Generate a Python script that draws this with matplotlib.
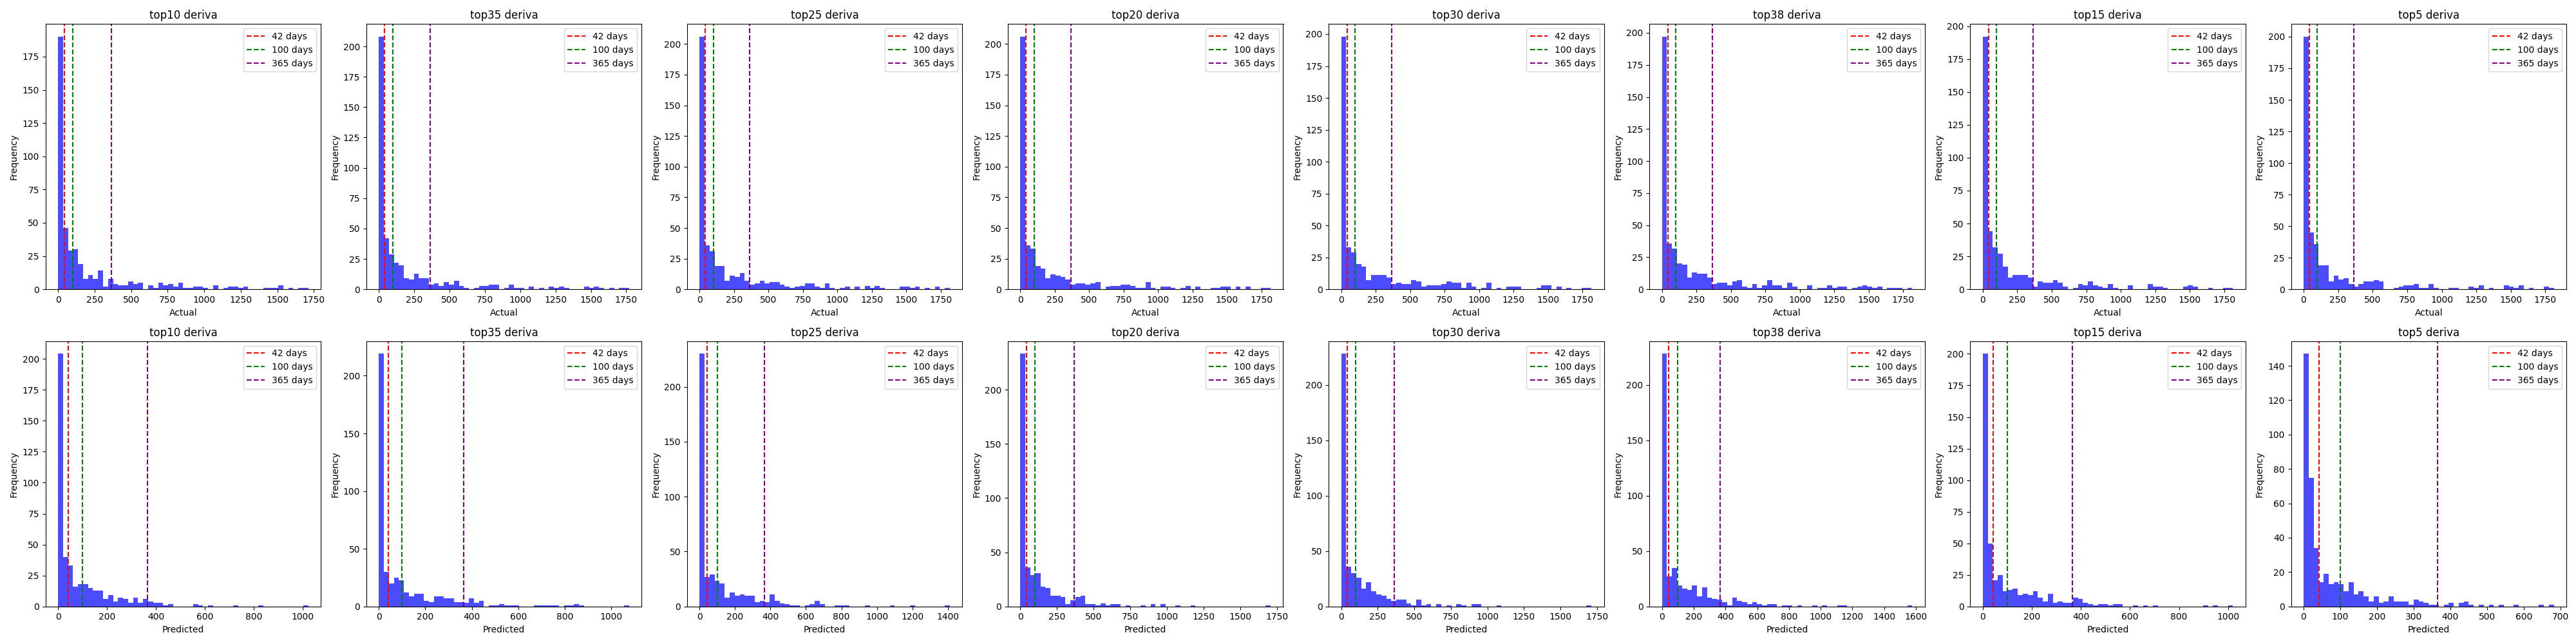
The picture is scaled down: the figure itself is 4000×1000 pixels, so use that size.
import numpy as np
import matplotlib
matplotlib.use("Agg")
import matplotlib.pyplot as plt

models = ["top10", "top35", "top25", "top20", "top30", "top38", "top15", "top5"]

# upper edge of histogram range (days) per model
actual_max = [1712, 1770, 1816, 1816, 1815, 1816, 1813, 1811]
pred_max = [1023, 1076, 1412, 1708, 1711, 1577, 1020, 682]

# 50-bin histogram counts
actual_top10 = [190, 46, 29, 30, 19, 8, 11, 8, 14, 2, 8, 4, 3, 3, 6, 4, 5, 0, 3, 1,
                5, 3, 4, 2, 5, 1, 1, 2, 2, 1, 0, 3, 0, 1, 2, 2, 1, 2, 0, 0,
                0, 1, 1, 1, 3, 0, 1, 0, 1, 1]
pred_top10 = [204, 40, 33, 16, 18, 18, 15, 13, 13, 6, 9, 4, 7, 6, 3, 7, 3, 6, 4, 3,
              3, 1, 2, 0, 0, 0, 0, 2, 1, 0, 1, 0, 0, 0, 0, 1, 0, 0, 0, 0,
              1, 0, 0, 0, 0, 0, 0, 0, 0, 1]
actual_top35 = [208, 42, 29, 22, 20, 9, 8, 13, 9, 9, 4, 5, 3, 6, 4, 7, 3, 1, 0, 1,
                3, 3, 4, 4, 0, 1, 4, 1, 1, 0, 2, 0, 1, 0, 2, 1, 2, 1, 0, 0,
                0, 2, 1, 2, 1, 0, 1, 0, 1, 1]
pred_top35 = [219, 30, 20, 25, 23, 12, 9, 11, 11, 5, 4, 9, 9, 7, 7, 4, 4, 3, 7, 3,
              5, 0, 1, 1, 2, 1, 1, 1, 0, 0, 0, 1, 1, 1, 1, 1, 0, 1, 1, 2,
              1, 0, 0, 0, 0, 0, 0, 0, 0, 1]
actual_top25 = [206, 36, 31, 19, 19, 7, 11, 10, 13, 7, 4, 5, 7, 5, 6, 6, 4, 2, 1, 2,
                3, 5, 5, 2, 1, 5, 1, 0, 1, 2, 0, 2, 0, 3, 1, 3, 1, 0, 0, 0,
                2, 2, 1, 2, 0, 1, 0, 2, 0, 1]
pred_top25 = [230, 27, 29, 23, 21, 8, 13, 10, 11, 10, 10, 4, 5, 4, 11, 5, 3, 2, 1, 1,
              0, 1, 2, 5, 2, 0, 0, 1, 1, 1, 0, 0, 0, 1, 0, 0, 0, 0, 1, 0,
              0, 0, 1, 0, 0, 0, 0, 0, 0, 1]
actual_top20 = [206, 36, 33, 19, 17, 9, 12, 11, 10, 8, 4, 5, 5, 4, 5, 6, 0, 2, 3, 3,
                4, 4, 3, 1, 1, 6, 1, 0, 2, 2, 1, 0, 1, 3, 0, 2, 0, 0, 1, 1,
                2, 2, 0, 2, 0, 2, 0, 0, 1, 1]
pred_top20 = [233, 36, 29, 31, 18, 17, 10, 10, 9, 2, 6, 9, 10, 2, 2, 1, 3, 1, 2, 2,
              0, 1, 0, 0, 1, 0, 2, 0, 2, 0, 0, 1, 0, 0, 1, 0, 0, 0, 0, 0,
              0, 0, 0, 0, 0, 0, 0, 0, 0, 1]
actual_top30 = [198, 33, 29, 20, 18, 7, 11, 11, 11, 9, 4, 5, 4, 4, 7, 6, 2, 3, 3, 3,
                4, 6, 5, 5, 1, 5, 2, 0, 1, 5, 0, 1, 0, 2, 2, 2, 0, 0, 0, 1,
                3, 3, 0, 2, 0, 1, 0, 0, 1, 1]
pred_top30 = [228, 36, 30, 26, 16, 22, 14, 11, 10, 7, 5, 6, 6, 3, 1, 6, 1, 2, 0, 2,
              0, 1, 0, 2, 1, 0, 2, 2, 0, 0, 0, 1, 0, 0, 0, 0, 0, 0, 0, 0,
              0, 0, 0, 0, 0, 0, 0, 0, 0, 1]
actual_top38 = [197, 36, 32, 20, 19, 9, 13, 12, 12, 9, 4, 5, 5, 3, 6, 7, 2, 1, 4, 1,
                3, 7, 3, 3, 1, 5, 2, 0, 0, 3, 0, 1, 1, 3, 1, 2, 2, 0, 1, 2,
                3, 2, 1, 2, 0, 1, 1, 1, 0, 1]
pred_top38 = [228, 27, 35, 19, 16, 15, 19, 9, 17, 8, 7, 6, 4, 1, 8, 5, 4, 2, 4, 2,
              1, 2, 2, 0, 1, 1, 0, 1, 0, 0, 1, 0, 1, 0, 0, 1, 1, 0, 0, 0,
              0, 0, 0, 0, 0, 0, 0, 0, 0, 1]
actual_top15 = [192, 44, 32, 27, 17, 9, 11, 11, 11, 9, 2, 6, 5, 5, 7, 5, 2, 0, 1, 4,
                3, 6, 3, 2, 1, 4, 1, 0, 0, 3, 0, 0, 0, 4, 2, 2, 1, 0, 0, 0,
                2, 3, 2, 0, 0, 1, 0, 0, 1, 1]
pred_top15 = [200, 50, 21, 25, 12, 13, 14, 9, 10, 9, 12, 7, 4, 10, 3, 4, 3, 3, 7, 6,
              3, 2, 1, 2, 2, 1, 2, 2, 0, 0, 1, 0, 1, 0, 1, 0, 0, 0, 0, 0,
              0, 0, 0, 0, 1, 0, 1, 0, 0, 1]
actual_top5 = [200, 45, 36, 19, 19, 6, 11, 8, 9, 4, 2, 4, 6, 6, 7, 6, 0, 0, 1, 2,
               3, 3, 4, 1, 1, 4, 1, 0, 0, 1, 1, 0, 0, 2, 1, 3, 0, 1, 0, 0,
               3, 2, 1, 3, 0, 1, 0, 0, 2, 1]
pred_top5 = [147, 75, 34, 14, 19, 13, 14, 13, 9, 14, 7, 9, 6, 3, 6, 2, 3, 6, 3, 3,
             3, 1, 4, 3, 2, 1, 1, 0, 1, 2, 0, 2, 3, 1, 0, 1, 0, 1, 0, 1,
             0, 0, 1, 0, 0, 0, 0, 1, 0, 1]

actual_counts = [actual_top10, actual_top35, actual_top25, actual_top20,
                 actual_top30, actual_top38, actual_top15, actual_top5]
pred_counts = [pred_top10, pred_top35, pred_top25, pred_top20,
               pred_top30, pred_top38, pred_top15, pred_top5]

thresholds = [42, 100, 365]
threshold_labels = ["42 days", "100 days", "365 days"]
threshold_colors = ["red", "green", "purple"]

fig, axes = plt.subplots(2, 8, figsize=(40, 10))
for i, name in enumerate(models):
    rows = [(actual_counts[i], actual_max[i], "Actual"),
            (pred_counts[i], pred_max[i], "Predicted")]
    for r, (counts, vmax, xlabel) in enumerate(rows):
        ax = axes[r, i]
        edges = np.linspace(0, vmax, len(counts) + 1)
        centers = (edges[:-1] + edges[1:]) / 2
        ax.hist(centers, bins=edges, weights=counts, color="blue", alpha=0.7)
        for t, lab, c in zip(thresholds, threshold_labels, threshold_colors):
            ax.axvline(t, color=c, linestyle="--", label=lab)
        ax.set_title(f"{name} deriva")
        ax.set_xlabel(xlabel)
        ax.set_ylabel("Frequency")
        ax.legend(loc="upper right")

plt.tight_layout()
plt.savefig("out.png", dpi=100)
